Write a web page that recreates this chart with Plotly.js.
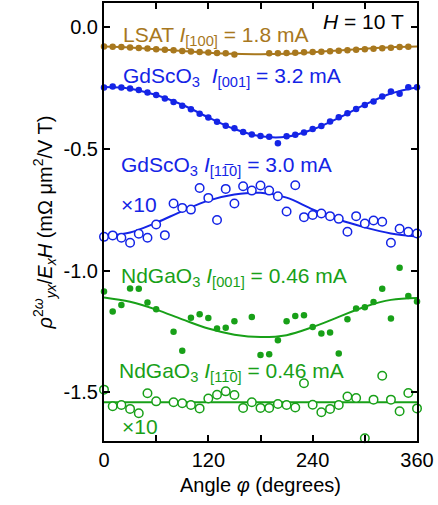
<!DOCTYPE html>
<html><head><meta charset="utf-8">
<script src="https://cdn.plot.ly/plotly-3.0.1.min.js"></script>
<style>html,body{margin:0;padding:0;background:#fff}#chart{width:438px;height:505px}</style>
</head><body><div id="chart"></div>
<script>
// ---- data ----
const lsatAngle = [0,10,20,30,40,50,60,70,80,90,100,110,120,130,140,150,190,200,210,220,230,240,250,260,270,280,290,300,310,320,330,340,350];
const lsatVal = [-0.079,-0.080,-0.081,-0.083,-0.085,-0.087,-0.090,-0.092,-0.094,-0.097,-0.099,-0.101,-0.103,-0.105,-0.106,-0.112,-0.107,-0.107,-0.105,-0.104,-0.102,-0.101,-0.100,-0.098,-0.096,-0.094,-0.092,-0.090,-0.088,-0.086,-0.084,-0.081,-0.080];
const fitAngle = [0,30,60,90,120,150,180,210,240,270,300,330,360];
const lsatFit = [-0.079,-0.083,-0.090,-0.097,-0.104,-0.109,-0.111,-0.109,-0.102,-0.095,-0.088,-0.082,-0.079];

const gdAAngle = [0,10,20,30,40,50,60,70,80,90,100,110,120,130,140,150,160,170,180,190,200,210,220,230,240,250,260,270,280,290,300,310,320,330,340,350,360];
const gdAVal = [-0.247,-0.243,-0.247,-0.251,-0.258,-0.268,-0.278,-0.292,-0.307,-0.322,-0.337,-0.355,-0.371,-0.388,-0.404,-0.415,-0.430,-0.440,-0.447,-0.450,-0.476,-0.448,-0.441,-0.432,-0.418,-0.405,-0.387,-0.370,-0.353,-0.336,-0.319,-0.305,-0.284,-0.264,-0.273,-0.246,-0.246];
const gdAFit = [-0.245,-0.252,-0.278,-0.318,-0.370,-0.418,-0.448,-0.450,-0.420,-0.372,-0.318,-0.272,-0.246];

const gdBAngle = [0,10,20,30,40,50,60,70,80,90,100,110,120,130,140,150,160,170,180,190,200,210,220,230,240,250,260,270,280,290,300,310,320,330,340,350,360];
const gdBVal = [-0.861,-0.855,-0.865,-0.885,-0.848,-0.865,-0.810,-0.854,-0.724,-0.742,-0.749,-0.660,-0.701,-0.792,-0.664,-0.724,-0.653,-0.671,-0.650,-0.671,-0.694,-0.757,-0.649,-0.780,-0.771,-0.765,-0.776,-0.787,-0.840,-0.776,-0.806,-0.794,-0.799,-0.885,-0.828,-0.840,-0.847];
const gdBFit = [-0.857,-0.843,-0.803,-0.755,-0.712,-0.687,-0.680,-0.700,-0.748,-0.790,-0.822,-0.847,-0.860];

const ndAAngle = [0,10,20,30,40,50,60,80,90,100,110,120,130,140,150,170,180,190,200,210,220,230,240,250,260,270,280,290,300,310,320,330,340,350,360];
const ndAVal = [-1.086,-1.168,-1.141,-1.073,-1.074,-1.131,-1.159,-1.251,-1.329,-1.193,-1.179,-1.195,-1.238,-1.235,-1.208,-1.190,-1.347,-1.343,-1.286,-1.208,-1.186,-1.183,-1.231,-1.258,-1.254,-1.340,-1.200,-1.155,-1.150,-1.129,-1.074,-1.197,-0.988,-1.104,-1.127];
const ndAFit = [-1.110,-1.128,-1.160,-1.200,-1.238,-1.263,-1.273,-1.265,-1.232,-1.190,-1.148,-1.120,-1.112];

const ndBAngle = [0,10,20,30,40,50,60,80,90,100,110,120,130,140,150,160,170,180,190,200,210,220,230,240,250,260,270,280,290,300,310,320,330,340,350,360];
const ndBVal = [-1.489,-1.557,-1.552,-1.568,-1.586,-1.504,-1.537,-1.541,-1.545,-1.552,-1.566,-1.525,-1.510,-1.496,-1.511,-1.564,-1.541,-1.564,-1.564,-1.548,-1.552,-1.562,-1.463,-1.551,-1.582,-1.568,-1.552,-1.517,-1.523,-1.689,-1.530,-1.432,-1.530,-1.578,-1.503,-1.566];
const ndBFitAngle = [0,360];
const ndBFit = [-1.541,-1.541];

const xTickVals = [0,120,240,360];
const xTickText = ['0','120','240','360'];
const yTickVals = [0,-0.5,-1.0,-1.5];
const yTickText = ['0.0','-0.5','-1.0','-1.5'];

// ---- styles ----
const BROWN = '#a8781e', BLUE = '#1424e6', GREEN = '#18a018';
const FONT = 'Arial, "Liberation Sans", Helvetica, sans-serif';

function dots(x, y, c) {
  return {x, y, type:'scatter', mode:'markers', marker:{color:c, size:6.5}, cliponaxis:false, hoverinfo:'skip'};
}
function rings(x, y, c) {
  return {x, y, type:'scatter', mode:'markers', marker:{color:'#ffffff', size:8.5, symbol:'circle', line:{color:c, width:1.5}}, cliponaxis:false, hoverinfo:'skip'};
}
function fit(x, y, c) {
  return {x, y, type:'scatter', mode:'lines', line:{color:c, width:2, shape:'spline', smoothing:1}, hoverinfo:'skip'};
}

const data = [
  fit(fitAngle, lsatFit, BROWN), dots(lsatAngle, lsatVal, BROWN),
  fit(fitAngle, gdAFit, BLUE), dots(gdAAngle, gdAVal, BLUE),
  fit(fitAngle, gdBFit, BLUE), rings(gdBAngle, gdBVal, BLUE),
  fit(fitAngle, ndAFit, GREEN), dots(ndAAngle, ndAVal, GREEN),
  fit(ndBFitAngle, ndBFit, GREEN), rings(ndBAngle, ndBVal, GREEN)
];

function ann(text, x, y, c, anchor) {
  return {text, x, y, xref:'x', yref:'y', xanchor:anchor||'left', yanchor:'middle', showarrow:false, font:{family:FONT, size:21, color:c}};
}
const bar = '1\u0305';
const annotations = [
  ann('LSAT <i>I</i><sub>[100]</sub> = 1.8 mA', 20, -0.035, BROWN),
  ann('<i>H</i> = 10 T', 347, 0.022, '#000', 'right'),
  ann('GdScO<sub>3</sub>  <i>I</i><sub>[001]</sub> = 3.2 mA', 20, -0.205, BLUE),
  ann('GdScO<sub>3</sub> <i>I</i><sub>[1' + bar + '0]</sub> = 3.0 mA', 17, -0.57, BLUE),
  ann('×10', 17, -0.728, BLUE),
  ann('NdGaO<sub>3</sub> <i>I</i><sub>[001]</sub> = 0.46 mA', 17, -1.025, GREEN),
  ann('NdGaO<sub>3</sub> <i>I</i><sub>[1' + bar + '0]</sub> = 0.46 mA', 15, -1.418, GREEN),
  ann('×10', 18, -1.642, GREEN)
];

const layout = {
  width:438, height:505,
  margin:{l:104, r:21, t:3, b:64},
  paper_bgcolor:'#fff', plot_bgcolor:'#fff',
  showlegend:false,
  font:{family:FONT, size:20, color:'#000'},
  xaxis:{range:[0,360], tickvals:xTickVals, ticktext:xTickText, ticks:'inside', ticklen:6, tickwidth:2, tickcolor:'#000',
    minor:{tickvals:[60,180,300], ticks:'inside', ticklen:6, tickwidth:2, tickcolor:'#000'},
    showline:true, linewidth:2, linecolor:'#000', mirror:'ticks', showgrid:false, zeroline:false,
    tickfont:{size:20}, title:{text:'Angle <i>φ</i> (degrees)', font:{size:20}, standoff:8}},
  yaxis:{range:[-1.7,0.1], tickvals:yTickVals, ticktext:yTickText, ticks:'inside', ticklen:6, tickwidth:2, tickcolor:'#000',
    showline:true, linewidth:2, linecolor:'#000', mirror:'ticks', showgrid:false, zeroline:false,
    tickfont:{size:20}, title:{text:'<i>ρ</i><sup>2<i>ω</i></sup><sub><i>yx</i></sub>/<i>E</i><sub><i>x</i></sub><i>H</i> (mΩ μm<sup>2</sup>/V T)', font:{size:20}, standoff:6}},
  annotations
};
Plotly.newPlot('chart', data, layout, {staticPlot:true});
</script></body></html>
